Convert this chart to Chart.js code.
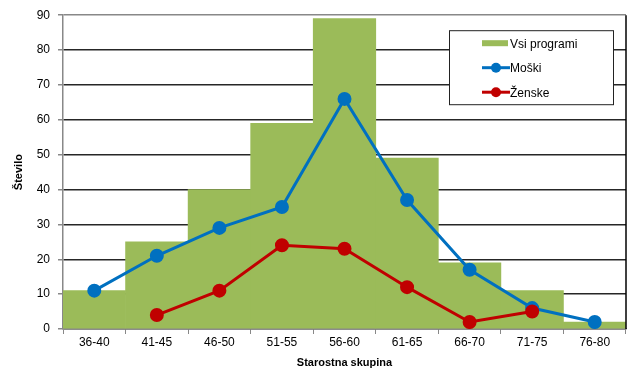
<!DOCTYPE html>
<html>
<head>
<meta charset="utf-8">
<script src="https://cdn.jsdelivr.net/npm/chart.js@4"></script>
<style>
    html, body { margin: 0; padding: 0; background: #fff; }
    #wrap { width: 641px; height: 387px; }
</style>
</head>
<body>
<div id="wrap"><canvas id="chartfield" width="641" height="387"></canvas></div>
<script>
const labels = ["36-40", "41-45", "46-50", "51-55", "56-60", "61-65", "66-70", "71-75", "76-80"];
const vsiProgrami = [11, 25, 40, 59, 89, 49, 19, 11, 2];
const moski = [11, 21, 29, 35, 66, 37, 17, 6, 2];
const zenske = [null, 4, 11, 24, 23, 12, 2, 5, null];

const font = "'Liberation Sans', Arial, sans-serif";

// legend box inside the plot, drawn like the Excel one
const boxLegend = {
    id: "boxLegend",
    afterDraw(chart) {
        const ctx = chart.ctx;
        const area = chart.chartArea;
        const x = area.right - 177;
        const y = area.top + 15;
        const w = 164;
        const h = 74;
        ctx.save();
        ctx.fillStyle = "#fff";
        ctx.fillRect(x, y, w, h);
        ctx.strokeStyle = "#222";
        ctx.lineWidth = 1;
        ctx.strokeRect(x + 0.5, y + 0.5, w, h);
        ctx.font = "12px " + font;
        ctx.textBaseline = "middle";
        chart.data.datasets.forEach((ds, i) => {
            const cy = y + 13 + i * 24.5;
            const sx = x + 33;
            if (ds.type === "bar") {
                ctx.fillStyle = ds.backgroundColor;
                ctx.fillRect(sx, cy - 3, 26, 6);
            } else {
                ctx.strokeStyle = ds.borderColor;
                ctx.lineWidth = 3;
                ctx.beginPath();
                ctx.moveTo(sx, cy);
                ctx.lineTo(sx + 28, cy);
                ctx.stroke();
                ctx.fillStyle = ds.borderColor;
                ctx.beginPath();
                ctx.arc(sx + 14, cy, 5, 0, Math.PI * 2);
                ctx.fill();
            }
            ctx.fillStyle = "#000";
            ctx.fillText(ds.label, sx + 28, cy + 1);
        });
        // right border of plot area
        ctx.strokeStyle = "#000";
        ctx.lineWidth = 1.5;
        ctx.beginPath();
        ctx.moveTo(area.right, area.top);
        ctx.lineTo(area.right, area.bottom);
        ctx.stroke();
        ctx.restore();
    },
};

const chart = new Chart(document.querySelector("#chartfield"), {
    data: {
        labels: labels,
        datasets: [
            {
                type: "bar",
                label: "Vsi programi",
                data: vsiProgrami,
                backgroundColor: "#9BBB59",
                borderWidth: 0,
                categoryPercentage: 1,
                barPercentage: 1,
                order: 3,
            },
            {
                type: "line",
                label: "Moški",
                data: moski,
                borderColor: "#0070C0",
                backgroundColor: "#0070C0",
                borderWidth: 3,
                pointRadius: 5.5,
                pointHoverRadius: 5.5,
                tension: 0,
                order: 2,
            },
            {
                type: "line",
                label: "Ženske",
                data: zenske,
                borderColor: "#C00000",
                backgroundColor: "#C00000",
                borderWidth: 3,
                pointRadius: 5.5,
                pointHoverRadius: 5.5,
                tension: 0,
                order: 1,
            },
        ],
    },
    options: {
        responsive: false,
        animation: false,
        layout: { padding: { top: 12, right: 15, left: 0, bottom: 0 } },
        plugins: {
            legend: { display: false },
            tooltip: { enabled: false },
        },
        scales: {
            x: {
                grid: {
                    offset: true,
                    drawOnChartArea: false,
                    color: "#888",
                    tickLength: 5,
                },
                border: { color: "#888", width: 1.5 },
                ticks: {
                    color: "#000",
                    font: { family: font, size: 12 },
                    padding: 1,
                    maxRotation: 0,
                },
                title: {
                    display: true,
                    text: "Starostna skupina",
                    color: "#000",
                    font: { family: font, size: 11, weight: "bold" },
                    padding: { top: 0, bottom: 17 },
                },
                afterFit(scale) {
                    scale.height = 58;
                },
            },
            y: {
                min: 0,
                max: 90,
                ticks: {
                    stepSize: 10,
                    color: "#000",
                    font: { family: font, size: 12 },
                    padding: 8,
                },
                grid: {
                    color: (c) => (c.tick && c.tick.value === 90 ? "#888" : "#262626"),
                    tickColor: "#888",
                    lineWidth: 1.5,
                    tickLength: 5,
                },
                border: { color: "#888", width: 1.5 },
                title: {
                    display: true,
                    text: "Število",
                    color: "#000",
                    font: { family: font, size: 11, weight: "bold" },
                    padding: { top: 12, bottom: 0 },
                },
                afterFit(scale) {
                    scale.width = 63;
                },
            },
        },
    },
    plugins: [boxLegend],
});
</script>
</body>
</html>
